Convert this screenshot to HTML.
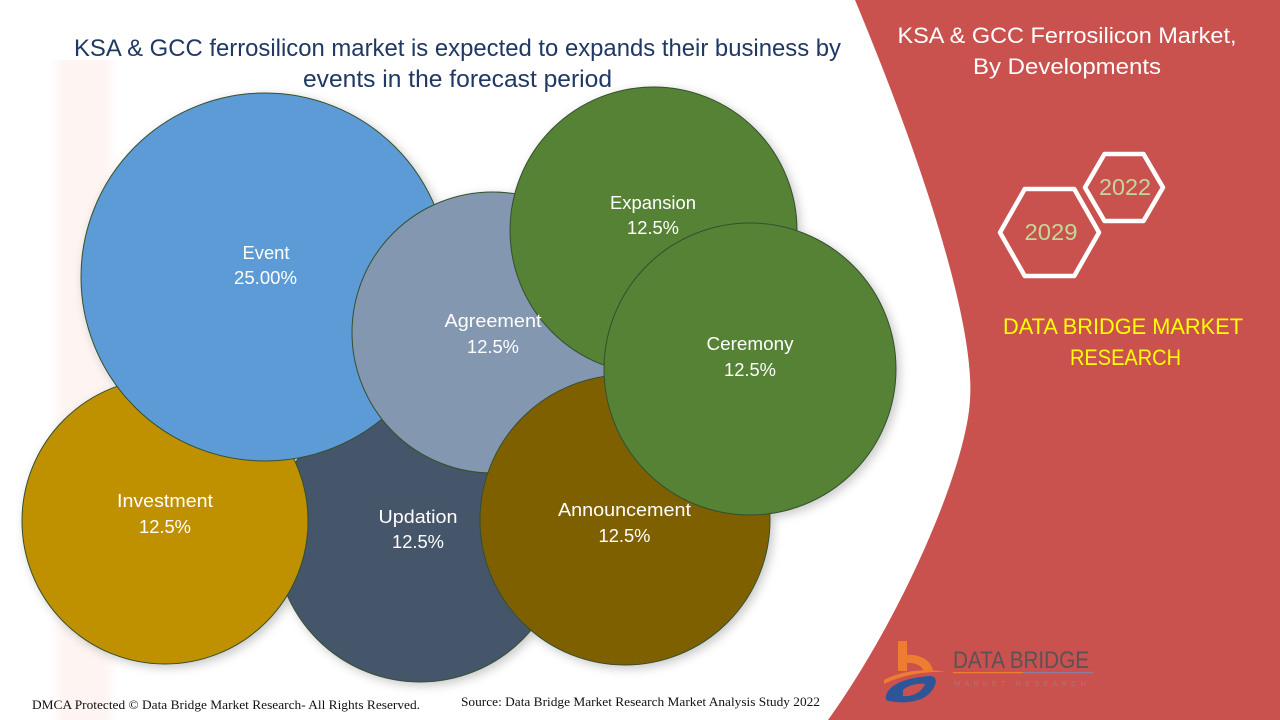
<!DOCTYPE html>
<html>
<head>
<meta charset="utf-8">
<style>
  html,body{margin:0;padding:0;background:#fff;width:1280px;height:720px;overflow:hidden;}
  svg{display:block;position:absolute;left:0;top:0;}
  text{font-family:"Liberation Sans",sans-serif;}
  .lbl{fill:#fff;font-size:18.5px;text-anchor:middle;}
</style>
</head>
<body>
<svg width="1280" height="720" viewBox="0 0 1280 720" xmlns="http://www.w3.org/2000/svg">
  <defs>
    <filter id="sh" x="-20%" y="-20%" width="140%" height="140%">
      <feDropShadow dx="3" dy="3" stdDeviation="5" flood-color="#000" flood-opacity="0.22"/>
    </filter>
    <linearGradient id="band" x1="0" y1="0" x2="1" y2="0">
      <stop offset="0" stop-color="#fef5f2" stop-opacity="0"/>
      <stop offset="0.2" stop-color="#fef5f2" stop-opacity="1"/>
      <stop offset="0.8" stop-color="#fef5f2" stop-opacity="1"/>
      <stop offset="1" stop-color="#fef5f2" stop-opacity="0"/>
    </linearGradient>
  </defs>

  <rect width="1280" height="720" fill="#fff"/>
  <!-- faint watermark band -->
  <rect x="50" y="60" width="68" height="660" fill="url(#band)"/>

  <!-- red panel -->
  <path d="M855,0 C930,180 975,330 970,400 C966,470 900,620 828,720 L1280,720 L1280,0 Z" fill="#c9514e"/>

  <!-- right title -->
  <text x="1067" y="43" fill="#fff" font-size="22.5" text-anchor="middle" textLength="339" lengthAdjust="spacingAndGlyphs">KSA &amp; GCC Ferrosilicon Market,</text>
  <text x="1067" y="74" fill="#fff" font-size="22.5" text-anchor="middle" textLength="188" lengthAdjust="spacingAndGlyphs">By Developments</text>

  <!-- hexagons -->
  <polygon points="1085,187.5 1104.5,154 1143.5,154 1163,187.5 1143.5,221 1104.5,221" fill="none" stroke="#fff" stroke-width="4.5" stroke-linejoin="round"/>
  <polygon points="1000,232.5 1024.75,189 1074.25,189 1099,232.5 1074.25,276 1024.75,276" fill="none" stroke="#fff" stroke-width="4.5" stroke-linejoin="round"/>
  <text x="1125" y="195" fill="#c3d69b" font-size="23" text-anchor="middle" textLength="52" lengthAdjust="spacingAndGlyphs">2022</text>
  <text x="1051" y="240" fill="#c3d69b" font-size="23" text-anchor="middle" textLength="53" lengthAdjust="spacingAndGlyphs">2029</text>

  <!-- yellow text -->
  <text x="1123" y="334" fill="#ffff00" font-size="22.5" text-anchor="middle" textLength="240" lengthAdjust="spacingAndGlyphs">DATA BRIDGE MARKET</text>
  <text x="1125.5" y="365" fill="#ffff00" font-size="22.5" text-anchor="middle" textLength="111" lengthAdjust="spacingAndGlyphs">RESEARCH</text>

  <!-- main title -->
  <text x="457.5" y="56" fill="#203864" font-size="24" text-anchor="middle" textLength="767" lengthAdjust="spacingAndGlyphs">KSA &amp; GCC ferrosilicon market is expected to expands their business by</text>
  <text x="457.5" y="87" fill="#203864" font-size="24" text-anchor="middle" textLength="309" lengthAdjust="spacingAndGlyphs">events in the forecast period</text>

  <!-- bubbles -->
  <g stroke="#34502f" stroke-width="1" filter="url(#sh)">
    <circle cx="420" cy="537" r="145" fill="#44546a"/>
    <circle cx="165" cy="521" r="143" fill="#bf9000"/>
    <circle cx="265" cy="277" r="184" fill="#5b9bd5"/>
    <circle cx="492.5" cy="332.5" r="140.5" fill="#8497b0"/>
    <circle cx="625" cy="520" r="145" fill="#7f6000"/>
    <circle cx="653.5" cy="230.5" r="143.5" fill="#548235"/>
    <circle cx="750" cy="369" r="146" fill="#548235"/>
  </g>

  <!-- labels -->
  <text class="lbl" x="266" y="259" textLength="47" lengthAdjust="spacingAndGlyphs">Event</text>
  <text class="lbl" x="265.5" y="284" textLength="63" lengthAdjust="spacingAndGlyphs">25.00%</text>

  <text class="lbl" x="493" y="327" textLength="97" lengthAdjust="spacingAndGlyphs">Agreement</text>
  <text class="lbl" x="493" y="353" textLength="52" lengthAdjust="spacingAndGlyphs">12.5%</text>

  <text class="lbl" x="653" y="209" textLength="86" lengthAdjust="spacingAndGlyphs">Expansion</text>
  <text class="lbl" x="653" y="234" textLength="52" lengthAdjust="spacingAndGlyphs">12.5%</text>

  <text class="lbl" x="750" y="350" textLength="87" lengthAdjust="spacingAndGlyphs">Ceremony</text>
  <text class="lbl" x="750" y="376" textLength="52" lengthAdjust="spacingAndGlyphs">12.5%</text>

  <text class="lbl" x="624.5" y="516" textLength="133" lengthAdjust="spacingAndGlyphs">Announcement</text>
  <text class="lbl" x="624.5" y="542" textLength="52" lengthAdjust="spacingAndGlyphs">12.5%</text>

  <text class="lbl" x="165" y="507" textLength="96" lengthAdjust="spacingAndGlyphs">Investment</text>
  <text class="lbl" x="165" y="533" textLength="52" lengthAdjust="spacingAndGlyphs">12.5%</text>

  <text class="lbl" x="418" y="523" textLength="79" lengthAdjust="spacingAndGlyphs">Updation</text>
  <text class="lbl" x="418" y="548" textLength="52" lengthAdjust="spacingAndGlyphs">12.5%</text>

  <!-- footer -->
  <text x="32" y="709" fill="#111" font-size="12.5" textLength="388" lengthAdjust="spacingAndGlyphs" style="font-family:'Liberation Serif',serif">DMCA Protected © Data Bridge Market Research- All Rights Reserved.</text>
  <text x="461" y="706" fill="#111" font-size="12.5" textLength="359" lengthAdjust="spacingAndGlyphs" style="font-family:'Liberation Serif',serif">Source: Data Bridge Market Research Market Analysis Study 2022</text>

  <!-- logo -->
  <g>
    <rect x="898" y="641" width="9" height="30" fill="#ee7d31"/>
    <path d="M898,656 C915,652 932,658 933,672 L924,672 C922,664 912,661 898,664 Z" fill="#ee7d31"/>
    <path d="M884,680 C900,671 925,668 946,672 C925,671 902,675 884,684 Z" fill="#ee7d31"/>
    <path d="M886,700 C884,688 900,678 930,676 C940,676 936,690 925,697 C915,703 898,704 886,700 Z M903,696 C913,697 922,692 925,684 C918,683 908,685 903,690 Z" fill="#2e5597" fill-rule="evenodd"/>
    <text x="953" y="668" fill="#5a5257" font-size="24" textLength="136" lengthAdjust="spacingAndGlyphs">DATA BRIDGE</text>
    <rect x="953" y="672" width="70" height="1.3" fill="#ee7d31"/>
    <rect x="1023" y="672" width="70" height="1.3" fill="#8a7fa0"/>
    <text x="954" y="686" fill="#a07a7a" font-size="7.5" textLength="135" lengthAdjust="spacing" letter-spacing="3">MARKET RESEARCH</text>
  </g>
</svg>
</body>
</html>
